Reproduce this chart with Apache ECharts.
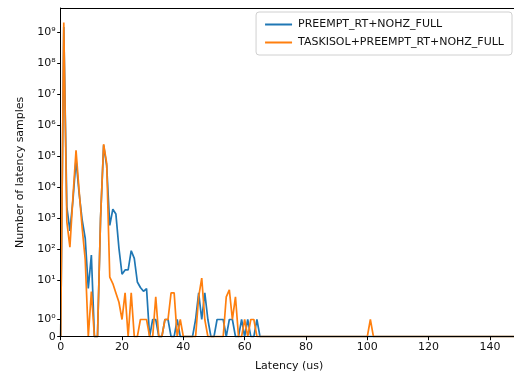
<!DOCTYPE html>
<html>
<head>
<meta charset="utf-8">
<script src="https://cdn.jsdelivr.net/npm/echarts@6/dist/echarts.min.js"></script>
<style>html,body{margin:0;padding:0;background:#fff;overflow:hidden}#c{width:514px;height:373px}</style>
</head>
<body>
<div id="c"></div>
<script>
// Latency bins (us)
const latency = Array.from({length: 150}, (_, i) => i);
// Number of samples per bin, PREEMPT_RT+NOHZ_FULL
const preemptRt = [
  0, 1.5e9, 2400, 400, 4000, 8e4, 6600, 900, 230, 5.6,
  67, 0, 0, 1000, 2.3e5, 5e4, 600, 2000, 1400, 110,
  16, 22, 22, 92, 52, 9, 6, 4.5, 5.5, 0,
  1, 1, 0, 0, 1, 1, 0, 0, 1, 0,
  0, 0, 0, 0, 1, 4, 1, 4, 1, 0,
  0, 1, 1, 1, 0, 1, 1, 0, 0, 1,
  0, 1, 0, 0, 1, 0, 0, 0, 0, 0,
  0, 0, 0, 0, 0, 0, 0, 0, 0, 0,
  0, 0, 0, 0, 0, 0, 0, 0, 0, 0,
  0, 0, 0, 0, 0, 0, 0, 0, 0, 0,
  0, 0, 0, 0, 0, 0, 0, 0, 0, 0,
  0, 0, 0, 0, 0, 0, 0, 0, 0, 0,
  0, 0, 0, 0, 0, 0, 0, 0, 0, 0,
  0, 0, 0, 0, 0, 0, 0, 0, 0, 0,
  0, 0, 0, 0, 0, 0, 0, 0, 0, 0
];
// Number of samples per bin, TASKISOL+PREEMPT_RT+NOHZ_FULL
const taskisol = [
  0, 2.1e9, 800, 120, 5000, 1.6e5, 8000, 500, 47, 0,
  4.4, 0, 0, 1000, 2.5e5, 6e4, 13, 8, 4, 2,
  1, 4, 0, 4, 0, 0, 1, 1, 1, 0,
  0, 3, 0, 0, 1, 1, 4, 4, 0, 1,
  0, 0, 0, 0, 0, 3, 12, 1, 0, 0,
  0, 0, 0, 0, 3, 5, 1, 3, 0, 0,
  1, 0, 1, 1, 0, 0, 0, 0, 0, 0,
  0, 0, 0, 0, 0, 0, 0, 0, 0, 0,
  0, 0, 0, 0, 0, 0, 0, 0, 0, 0,
  0, 0, 0, 0, 0, 0, 0, 0, 0, 0,
  0, 1, 0, 0, 0, 0, 0, 0, 0, 0,
  0, 0, 0, 0, 0, 0, 0, 0, 0, 0,
  0, 0, 0, 0, 0, 0, 0, 0, 0, 0,
  0, 0, 0, 0, 0, 0, 0, 0, 0, 0,
  0, 0, 0, 0, 0, 0, 0, 0, 0, 0
];
const seriesNames = ['PREEMPT_RT+NOHZ_FULL', 'TASKISOL+PREEMPT_RT+NOHZ_FULL'];
const xTicks = [0, 20, 40, 60, 80, 100, 120, 140];
const yTickExponents = [0, 1, 2, 3, 4, 5, 6, 7, 8, 9];

// symmetric-log scale (linear below threshold), expressed in decades
const LINTHRESH = 2, LINSCALE = 1 / 0.9;
function symlog(v) {
  if (v <= LINTHRESH) return (v / LINTHRESH) * LINSCALE;
  return LINSCALE + Math.log10(v / LINTHRESH);
}
const sup = {'0':'⁰','1':'¹','2':'²','3':'³','4':'⁴','5':'⁵','6':'⁶','7':'⁷','8':'⁸','9':'⁹'};
const tickVals = [0].concat(yTickExponents.map(n => symlog(Math.pow(10, n))));
function fmtY(val) {
  if (Math.abs(val) < 1e-6) return '0';
  for (const n of yTickExponents) {
    if (Math.abs(symlog(Math.pow(10, n)) - val) < 1e-6) return '10' + String(n).split('').map(c => sup[c]).join('');
  }
  return '';
}

const X_MAX = 149;
const chart = echarts.init(document.getElementById('c'), null, {renderer: 'canvas'});
const font = 'DejaVu Sans';
chart.setOption({
  animation: false,
  backgroundColor: '#fff',
  color: ['#1f77b4', '#ff7f0e'],
  textStyle: {fontFamily: font},
  grid: {left: 60.7, top: 8, height: 328.7, width: 3.066 * X_MAX, show: false,
         containLabel: false, outerBoundsMode: 'none'},
  legend: {
    orient: 'vertical', right: 2, top: 12,
    data: seriesNames,
    icon: 'rect', itemWidth: 27, itemHeight: 2, itemGap: 7,
    padding: [7, 8, 7, 9],
    borderColor: '#d0d0d0', borderWidth: 1, borderRadius: 3,
    backgroundColor: 'rgba(255,255,255,0.8)',
    textStyle: {fontFamily: font, fontSize: 11, color: '#111', padding: [0, 0, 0, 1]}
  },
  xAxis: [{
    type: 'value', min: 0, max: X_MAX,
    name: 'Latency (us)', nameLocation: 'middle', nameGap: 24,
    nameTextStyle: {fontFamily: font, fontSize: 11, color: '#111'},
    axisLine: {show: true, lineStyle: {color: '#000', width: 1}},
    axisTick: {show: true, length: 3.5, lineStyle: {color: '#000'}, customValues: xTicks},
    axisLabel: {fontFamily: font, fontSize: 11, color: '#111', margin: 5, customValues: xTicks},
    splitLine: {show: false},
    z: 5
  }, {
    type: 'value', min: 0, max: X_MAX, position: 'top',
    axisLine: {show: true, lineStyle: {color: '#000', width: 1}},
    axisTick: {show: false}, axisLabel: {show: false}, splitLine: {show: false},
    z: 5
  }],
  yAxis: {
    type: 'value', min: 0, max: 10.603,
    name: 'Number of latency samples', nameLocation: 'middle', nameGap: 35,
    nameTextStyle: {fontFamily: font, fontSize: 11, color: '#111'},
    axisLine: {show: true, lineStyle: {color: '#000', width: 1}},
    axisTick: {show: true, length: 3.5, lineStyle: {color: '#000'}, customValues: tickVals},
    axisLabel: {fontFamily: font, fontSize: 11, color: '#111', margin: 5, customValues: tickVals, formatter: fmtY},
    splitLine: {show: false},
    z: 5
  },
  series: [
    {name: seriesNames[0], type: 'line', symbol: 'none', lineStyle: {width: 1.7}, z: 2,
     data: latency.map((x, i) => [x, symlog(preemptRt[i])])},
    {name: seriesNames[1], type: 'line', symbol: 'none', lineStyle: {width: 1.7}, z: 3,
     data: latency.map((x, i) => [x, symlog(taskisol[i])])}
  ]
});
</script>
</body>
</html>
